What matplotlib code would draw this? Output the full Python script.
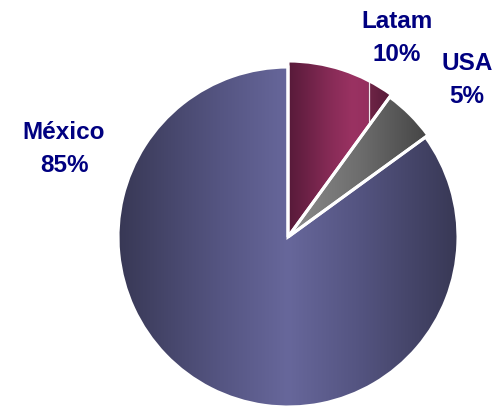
import matplotlib.pyplot as plt
import numpy as np
from matplotlib.colors import LinearSegmentedColormap

# sales split by region
regions = ['Latam', 'USA', 'México']
shares = [10, 5, 85]
label_pos = [(397, 371), (467, 329), (64, 260)]

# horizontal shading for each slice (left -> right)
shading = {
    'Latam': [(0.0, '#571a39'), (0.4, '#862b56'), (0.62, '#9a3262'),
              (0.77, '#962f5f'), (0.78, '#6e2446'), (1.0, '#561a38')],
    'USA': [(0.0, '#8c8c8c'), (0.5, '#6e6e6e'), (1.0, '#454545')],
    'México': [(0.0, '#383855'), (0.3, '#555582'), (0.5, '#67679b'),
               (0.7, '#555582'), (1.0, '#383855')],
}
radius = {'Latam': 176, 'USA': 173, 'México': 170}

W, H = 494, 409
fig = plt.figure(figsize=(W / 100, H / 100), dpi=100)
ax = fig.add_axes([0, 0, 1, 1])

wedges, _ = ax.pie(shares, startangle=90, counterclock=False,
                   center=(288, 172), radius=170, frame=True)

for name, w in zip(regions, wedges):
    w.set_radius(radius[name])
    w.set_facecolor('none')
    w.set_edgecolor('white')
    w.set_linewidth(2.2)
    w.set_zorder(3)
    bb = w.get_path().get_extents()
    cmap = LinearSegmentedColormap.from_list(name, shading[name])
    grad = np.linspace(0, 1, 256).reshape(1, -1)
    im = ax.imshow(grad, cmap=cmap, aspect='auto', zorder=1,
                   extent=(bb.x0, bb.x1, bb.y0, bb.y1), interpolation='bilinear')
    im.set_clip_path(w)
    if name == 'Latam':
        ln = ax.axvline(369, color='#f2e6ec', lw=0.9, zorder=2)
        ln.set_clip_path(w)

for name, pct, (x, y) in zip(regions, shares, label_pos):
    ax.text(x, y, f'{name}\n{pct}%', ha='center', va='center', ma='center',
            fontsize=17.5, fontweight='bold', color='#000080',
            family='Liberation Sans', linespacing=1.52)

ax.set_xlim(0, W)
ax.set_ylim(0, H)
ax.set_aspect('auto')
ax.axis('off')

fig.savefig('out.png', dpi=100)
